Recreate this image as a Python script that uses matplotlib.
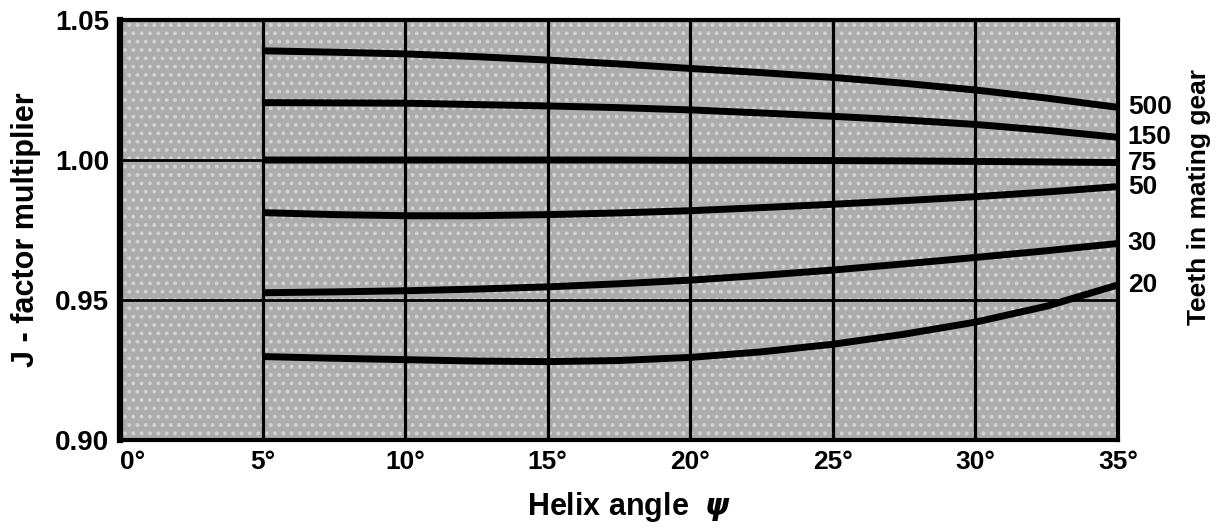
import matplotlib
matplotlib.use("Agg")
import matplotlib.pyplot as plt
from matplotlib.patches import Rectangle

# ---------- DATA ----------
angles = [5, 7.5, 10, 12.5, 15, 17.5, 20, 22.5, 25, 27.5, 30, 32.5, 35]
teeth = ["500", "150", "75", "50", "30", "20"]
j500 = [1.0390, 1.0385, 1.0379, 1.0369, 1.0357, 1.0343, 1.0327, 1.0312, 1.0295, 1.0274, 1.0250, 1.0221, 1.0188]
j150 = [1.0205, 1.0204, 1.0203, 1.0198, 1.0193, 1.0187, 1.0179, 1.0168, 1.0156, 1.0143, 1.0127, 1.0106, 1.0081]
j75 = [1.0000, 1.0000, 1.0000, 1.0000, 1.0000, 1.0000, 0.9999, 0.9999, 0.9998, 0.9997, 0.9995, 0.9993, 0.9991]
j50 = [0.9812, 0.9805, 0.9801, 0.9801, 0.9805, 0.9811, 0.9819, 0.9830, 0.9842, 0.9855, 0.9869, 0.9886, 0.9905]
j30 = [0.9526, 0.9529, 0.9533, 0.9539, 0.9547, 0.9558, 0.9571, 0.9588, 0.9607, 0.9629, 0.9652, 0.9676, 0.9702]
j20 = [0.9298, 0.9292, 0.9287, 0.9282, 0.9280, 0.9284, 0.9295, 0.9315, 0.9342, 0.9378, 0.9421, 0.9478, 0.9554]
curves = [j500, j150, j75, j50, j30, j20]

x_ticks = [0, 5, 10, 15, 20, 25, 30, 35]
y_ticks = [0.90, 0.95, 1.00, 1.05]

plt.rcParams["font.family"] = ["Liberation Sans", "DejaVu Sans"]
plt.rcParams["font.weight"] = "bold"
plt.rcParams["hatch.linewidth"] = 1.6

fig = plt.figure(figsize=(12.2, 5.32), dpi=100)
ax = fig.add_axes([0.0984, 0.1729, 0.8180, 0.7895])

ax.set_xlim(0, 35)
ax.set_ylim(0.90, 1.05)

# stippled grey paper background
ax.add_patch(Rectangle((0, 0), 1, 1, transform=ax.transAxes,
                       facecolor="#acacac", edgecolor="#d2d2d2",
                       hatch="..", lw=0, zorder=0))

# grid: vertical lines 5..30, horizontal at 0.95 and 1.00
for xv in x_ticks[1:-1]:
    ax.axvline(xv, color="black", lw=2.3, zorder=2)
for yv in y_ticks[1:-1]:
    ax.axhline(yv, color="black", lw=2.0, zorder=2)

for vals, lab in zip(curves, teeth):
    ax.plot(angles, vals, color="black", lw=5, solid_capstyle="butt",
            solid_joinstyle="round", zorder=3)
    ax.annotate(lab, xy=(angles[-1], vals[-1]), xytext=(7, 0),
                textcoords="offset points", ha="left", va="center",
                fontsize=19, fontweight="bold", annotation_clip=False)

for side in ["top", "right", "bottom"]:
    ax.spines[side].set_linewidth(3)
ax.spines["left"].set_linewidth(4.5)
for s in ax.spines.values():
    s.set_zorder(4)

ax.set_xticks(x_ticks)
ax.set_xticklabels([f"{v}°" for v in x_ticks])
ax.set_yticks(y_ticks)
ax.set_yticklabels([f"{v:.2f}" for v in y_ticks])
ax.tick_params(axis="x", length=0, labelsize=19, pad=7)
ax.tick_params(axis="y", length=0, labelsize=20, pad=8)
ax.get_xticklabels()[0].set_horizontalalignment("left")

ax.set_xlabel("Helix angle  $\\psi$", fontsize=22, fontweight="bold")
ax.set_ylabel("J - factor multiplier", fontsize=22, fontweight="bold", labelpad=10)
ax.xaxis.set_label_coords(0.51, -0.118)

fig.text(0.983, 0.63, "Teeth in mating gear", rotation=90, ha="center",
         va="center", fontsize=19, fontweight="bold")

fig.savefig("out.png", dpi=100)
